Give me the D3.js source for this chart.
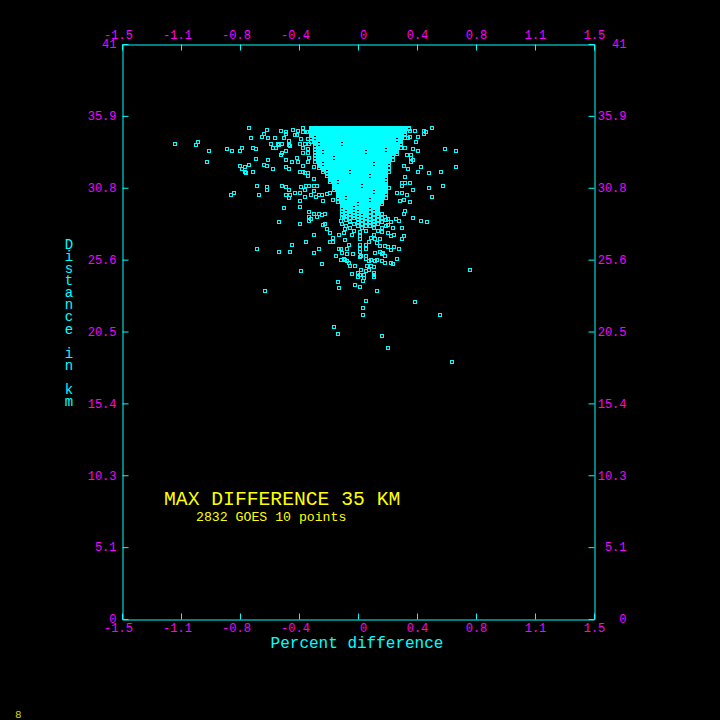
<!DOCTYPE html>
<html>
<head>
<meta charset="utf-8">
<script src="https://cdn.jsdelivr.net/npm/d3@7"></script>
<style>
  body { margin: 0; background: #000; }
  svg { display: block; }
  text { font-family: "Liberation Mono", "DejaVu Sans Mono", monospace; }
</style>
</head>
<body>
<svg></svg>
<script>
// axis ticks
const xTicks = [-1.5, -1.125, -0.75, -0.375, 0, 0.375, 0.75, 1.125, 1.5];
const xTickLabels = ["-1.5", "-1.1", "-0.8", "-0.4", "0", "0.4", "0.8", "1.1", "1.5"];
const yTicks = [0, 5.125, 10.25, 15.375, 20.5, 25.625, 30.75, 35.875, 41];
const yTickLabels = ["0", "5.1", "10.3", "15.4", "20.5", "25.6", "30.8", "35.9", "41"];

// texts
const xTitle = "Percent difference";
const yTitle = "Distance in km";
const mainNote = "MAX DIFFERENCE 35 KM";
const subNote = "2832 GOES 10 points";
const pageNo = "8";

// dense core of the cloud, one row of percent values per distance (km)
const coreDist = [35.01, 34.94, 34.87, 34.73, 34.58, 34.44, 34.30, 34.15, 34.01, 33.87,
  33.73, 33.58, 33.44, 33.30, 33.16, 33.01, 32.87, 32.73, 32.59, 32.44,
  32.30, 32.16, 32.02, 31.87, 31.73, 31.59, 31.45, 31.30, 31.16, 31.02,
  30.87, 30.73, 30.59, 30.45, 30.30, 30.16, 30.02, 29.88, 29.73, 29.59,
  29.45, 29.31, 29.16, 29.02, 28.85, 28.72, 28.60, 28.45, 28.30, 28.15,
  28.00, 27.85, 27.70];
const corePct = [
  [-0.3,-0.275,-0.25,-0.225,-0.2,-0.175,-0.15,-0.125,-0.1,-0.075,-0.05,-0.025,0,0.025,0.05,0.075,0.1,0.125,0.15,0.175,0.2,0.225,0.25,0.275,0.3,0.325],
  [-0.3,-0.275,-0.25,-0.225,-0.2,-0.175,-0.15,-0.125,-0.1,-0.075,-0.05,-0.025,0,0.025,0.05,0.075,0.1,0.125,0.15,0.175,0.2,0.225,0.25,0.275,0.3,0.325],
  [-0.3,-0.275,-0.25,-0.225,-0.2,-0.175,-0.15,-0.125,-0.1,-0.075,-0.05,-0.025,0,0.025,0.05,0.075,0.1,0.125,0.15,0.175,0.2,0.225,0.25,0.275,0.3],
  [-0.325,-0.3,-0.275,-0.25,-0.225,-0.2,-0.175,-0.15,-0.125,-0.1,-0.075,-0.05,-0.025,0,0.025,0.05,0.075,0.1,0.125,0.15,0.175,0.2,0.225,0.25,0.275,0.3],
  [-0.3,-0.275,-0.25,-0.225,-0.2,-0.175,-0.15,-0.125,-0.1,-0.075,-0.05,-0.025,0,0.025,0.05,0.075,0.1,0.125,0.15,0.175,0.2,0.225,0.25,0.275,0.3],
  [-0.3,-0.275,-0.25,-0.225,-0.2,-0.175,-0.15,-0.125,-0.1,-0.075,-0.05,-0.025,0,0.025,0.05,0.075,0.1,0.125,0.15,0.175,0.2,0.225,0.25,0.275],
  [-0.3,-0.25,-0.225,-0.2,-0.175,-0.15,-0.125,-0.1,-0.075,-0.05,-0.025,0,0.025,0.05,0.075,0.1,0.125,0.15,0.175,0.2,0.225,0.25,0.275,0.3],
  [-0.275,-0.25,-0.225,-0.2,-0.175,-0.15,-0.125,-0.1,-0.075,-0.05,-0.025,0,0.025,0.05,0.075,0.1,0.125,0.15,0.175,0.2,0.225,0.275],
  [-0.3,-0.275,-0.25,-0.225,-0.2,-0.175,-0.15,-0.125,-0.1,-0.075,-0.05,-0.025,0,0.025,0.05,0.075,0.1,0.125,0.15,0.175,0.2,0.225,0.25,0.275],
  [-0.275,-0.225,-0.2,-0.175,-0.15,-0.125,-0.075,-0.05,-0.025,0,0.025,0.05,0.075,0.1,0.125,0.15,0.175,0.2,0.225,0.25,0.275],
  [-0.275,-0.25,-0.225,-0.2,-0.175,-0.15,-0.125,-0.1,-0.075,-0.05,-0.025,0,0.025,0.05,0.075,0.1,0.125,0.15,0.175,0.2,0.225,0.25],
  [-0.25,-0.225,-0.2,-0.175,-0.15,-0.125,-0.1,-0.075,-0.05,-0.025,0,0.025,0.05,0.075,0.1,0.125,0.15,0.175,0.2,0.225,0.25,0.275],
  [-0.275,-0.25,-0.225,-0.2,-0.175,-0.15,-0.125,-0.1,-0.075,-0.05,-0.025,0,0.025,0.05,0.075,0.1,0.125,0.15,0.2,0.225,0.25],
  [-0.275,-0.25,-0.2,-0.175,-0.15,-0.125,-0.1,-0.075,-0.05,-0.025,0,0.025,0.075,0.1,0.125,0.15,0.175,0.2,0.225,0.25],
  [-0.25,-0.225,-0.2,-0.175,-0.15,-0.125,-0.1,-0.075,-0.05,-0.025,0,0.025,0.05,0.075,0.1,0.125,0.15,0.175,0.2,0.225,0.25],
  [-0.275,-0.25,-0.225,-0.2,-0.175,-0.15,-0.125,-0.1,-0.075,-0.05,-0.025,0,0.025,0.05,0.075,0.1,0.125,0.15,0.175,0.2,0.225],
  [-0.275,-0.25,-0.225,-0.2,-0.175,-0.125,-0.1,-0.075,-0.05,-0.025,0,0.025,0.05,0.075,0.1,0.125,0.15,0.175,0.2],
  [-0.25,-0.225,-0.2,-0.175,-0.15,-0.125,-0.1,-0.075,-0.05,-0.025,0,0.025,0.05,0.075,0.1,0.125,0.15,0.175,0.2,0.225],
  [-0.275,-0.25,-0.225,-0.2,-0.175,-0.15,-0.125,-0.1,-0.075,-0.05,-0.025,0,0.025,0.05,0.075,0.1,0.125,0.15,0.175,0.2],
  [-0.25,-0.2,-0.175,-0.15,-0.125,-0.1,-0.075,-0.05,-0.025,0,0.025,0.05,0.075,0.125,0.15,0.175,0.2],
  [-0.25,-0.225,-0.2,-0.175,-0.15,-0.125,-0.1,-0.075,-0.05,-0.025,0,0.025,0.05,0.075,0.1,0.125,0.15,0.175],
  [-0.25,-0.225,-0.2,-0.175,-0.15,-0.125,-0.1,-0.075,-0.05,-0.025,0,0.025,0.05,0.075,0.1,0.125,0.15,0.175,0.2],
  [-0.225,-0.2,-0.175,-0.15,-0.125,-0.1,-0.075,-0.05,-0.025,0,0.025,0.05,0.075,0.1,0.125,0.15,0.175],
  [-0.225,-0.175,-0.15,-0.125,-0.1,-0.075,-0.025,0,0.025,0.05,0.075,0.1,0.125,0.15,0.175,0.2],
  [-0.2,-0.175,-0.15,-0.125,-0.1,-0.075,-0.05,-0.025,0,0.025,0.05,0.075,0.1,0.125,0.15,0.175],
  [-0.2,-0.175,-0.15,-0.125,-0.1,-0.075,-0.05,-0.025,0,0.025,0.05,0.1,0.125,0.15,0.175],
  [-0.175,-0.15,-0.125,-0.1,-0.075,-0.05,-0.025,0,0.025,0.05,0.075,0.1,0.125,0.15,0.175],
  [-0.175,-0.15,-0.125,-0.1,-0.075,-0.05,-0.025,0,0.025,0.05,0.075,0.1,0.125,0.15],
  [-0.175,-0.15,-0.1,-0.075,-0.05,-0.025,0,0.025,0.05,0.075,0.1,0.125,0.15,0.175],
  [-0.15,-0.125,-0.1,-0.075,-0.05,-0.025,0,0.025,0.05,0.075,0.1,0.125,0.15,0.175],
  [-0.15,-0.125,-0.1,-0.075,-0.05,-0.025,0,0.05,0.075,0.1,0.125,0.15,0.175],
  [-0.15,-0.125,-0.1,-0.075,-0.05,-0.025,0,0.025,0.05,0.075,0.1,0.125,0.15,0.175,0.2],
  [-0.15,-0.125,-0.1,-0.075,-0.05,-0.025,0,0.025,0.05,0.075,0.1,0.125,0.15,0.175],
  [-0.125,-0.1,-0.075,-0.05,-0.025,0,0.025,0.05,0.075,0.125,0.15,0.175],
  [-0.125,-0.1,-0.075,-0.05,-0.025,0,0.025,0.05,0.075,0.1,0.125,0.15,0.175],
  [-0.125,-0.1,-0.075,-0.05,-0.025,0,0.025,0.05,0.075,0.1,0.125,0.15],
  [-0.125,-0.1,-0.05,-0.025,0,0.025,0.05,0.075,0.1,0.125,0.15,0.175],
  [-0.1,-0.075,-0.05,-0.025,0,0.025,0.05,0.1,0.125,0.15],
  [-0.125,-0.1,-0.075,-0.05,-0.025,0,0.025,0.05,0.075,0.1,0.125,0.15],
  [-0.1,-0.075,-0.05,-0.025,0.025,0.05,0.075,0.1,0.125,0.15],
  [-0.1,-0.075,-0.05,-0.025,0,0.025,0.05,0.075,0.1,0.125],
  [-0.1,-0.075,-0.05,0,0.025,0.05,0.075,0.1,0.125],
  [-0.075,-0.05,-0.025,0,0.025,0.05,0.1,0.125],
  [-0.1,-0.05,-0.025,0.025,0.05,0.075,0.125],
  [-0.1,-0.075,-0.05,0,0.025,0.05,0.1,0.125,0.15],
  [-0.075,-0.025,0,0.05,0.075,0.125],
  [-0.1,-0.05,-0.025,0.025,0.05,0.1,0.15],
  [-0.075,0,0.025,0.075,0.125,0.175],
  [-0.05,0,0.05,0.075,0.1,0.15],
  [-0.1,-0.025,0.025,0.1,0.125],
  [-0.075,0,0.05,0.075,0.175],
  [-0.05,0.025,0.1,0.15],
  [-0.025,0.05,0.125]
];

// scattered points around the core: [percent difference, distance km]
const outliers = [
  [-1.16,33.9],[-1.02,34.0],[-1.03,33.8],[-0.95,33.4],[-0.96,32.6],[-0.83,33.5],[-0.80,33.4],
  [-0.74,33.6],[-0.75,33.4],[-0.69,35.0],[-0.68,34.3],[-0.67,33.6],[-0.65,33.5],[-0.65,32.8],
  [-0.69,32.4],[-0.75,32.3],[-0.74,32.1],[-0.72,32.2],[-0.72,31.9],[-0.71,31.8],[-0.67,31.9],
  [-0.58,34.9],[-0.60,34.6],[-0.61,34.4],[-0.57,34.3],[-0.53,34.3],[-0.55,33.9],[-0.51,33.9],
  [-0.50,33.8],[-0.48,33.9],[-0.54,33.6],[-0.52,33.6],[-0.57,32.7],[-0.60,32.4],[-0.58,32.3],
  [-0.54,32.1],[-0.49,34.8],[-0.46,34.7],[-0.46,34.6],[-0.47,34.3],[-0.44,34.1],[-0.44,33.8],
  [-0.43,33.7],[-0.46,33.4],[-0.48,33.2],[-0.49,33.1],[-0.46,32.7],[-0.46,32.2],[-0.44,32.1],
  [-0.64,30.9],[-0.79,30.4],[-0.81,30.2],[-0.63,30.2],[-0.58,30.8],[-0.58,30.6],[-0.48,30.9],
  [-0.46,30.8],[-0.44,30.6],[-0.46,30.2],[-0.43,30.2],[-0.44,30.0],[-0.47,29.3],[-0.50,28.3],
  [-0.64,26.4],[-0.50,26.2],[-0.43,26.2],[-0.42,26.7],[-0.36,24.8],[-0.59,23.4],
  [-0.41,34.9],[-0.40,34.5],[-0.39,34.5],[-0.38,34.8],[-0.37,33.9],[-0.39,32.9],[-0.42,32.6],
  [-0.38,32.6],[-0.37,31.9],[-0.35,31.9],[-0.36,30.8],[-0.34,30.6],[-0.40,30.4],[-0.37,30.4],
  [-0.34,30.1],[-0.37,29.4],[-0.37,29.8],[-0.37,28.2],[-0.31,29.0],[-0.30,28.5],[-0.31,28.4],
  [-0.28,27.4],[-0.33,26.9],[-0.28,26.1],[-0.25,26.4],
  [-0.35,35.0],[-0.35,34.7],[-0.36,34.2],[-0.35,33.6],[-0.35,33.2],[-0.35,32.3],[-0.34,31.8],
  [-0.32,31.6],[-0.28,32.2],[-0.31,32.9],[-0.32,33.5],[-0.32,34.7],[-0.32,34.2],[-0.34,33.9],
  [-0.31,33.9],[-0.32,33.2],[-0.32,32.6],[-0.32,31.8],[-0.28,31.4],
  [-0.33,30.9],[-0.31,30.9],[-0.28,30.9],[-0.26,30.9],[-0.28,30.5],[-0.30,30.2],[-0.27,30.1],
  [-0.25,30.2],[-0.23,30.2],[-0.20,30.3],[-0.22,29.8],[-0.18,30.4],[-0.16,29.9],
  [-0.31,28.7],[-0.28,28.9],[-0.26,28.7],[-0.23,28.8],[-0.21,28.9],[-0.25,28.9],[-0.21,28.2],
  [-0.22,28.1],[-0.20,27.8],[-0.18,27.5],[-0.16,27.2],[-0.18,26.9],[-0.16,26.9],
  [-0.11,28.4],[-0.09,28.7],[-0.05,28.4],[-0.08,27.8],[-0.12,27.4],[-0.09,27.5],[-0.08,27.0],
  [-0.06,26.7],[-0.04,27.4],[-0.14,25.9],[-0.12,26.4],[-0.10,26.1],[-0.07,25.5],
  [0.47,35.0],[0.42,34.8],[0.43,34.7],[0.42,34.6],[0.37,34.0],[0.55,33.5],[0.62,33.4],
  [0.38,33.4],[0.34,32.9],[0.35,32.7],[0.34,32.6],[0.40,32.2],[0.38,31.9],[0.45,31.8],
  [0.53,31.9],[0.62,32.2],[0.54,30.9],[0.45,30.7],[0.47,30.1],[0.35,30.6],[0.33,29.7],
  [0.30,29.1],[0.29,28.9],[0.35,28.6],[0.40,28.4],[0.44,28.3],[0.28,27.9],[0.29,27.3],
  [0.28,27.1],[0.25,25.7],[0.21,25.4],[0.22,25.3],[0.71,24.9],[0.36,22.6],
  [0.33,34.8],[0.36,34.8],[0.38,34.4],[0.33,34.4],[0.32,34.3],[0.35,33.5],[0.34,33.1],
  [0.30,33.6],[0.31,33.1],[0.29,32.3],[0.32,32.1],[0.30,31.5],[0.28,31.1],[0.30,31.1],
  [0.33,31.1],[0.28,30.4],[0.31,30.2],[0.29,29.9],[0.27,29.8],[0.28,30.9],[0.25,30.4],
  [0.24,28.5],[0.26,28.4],[0.21,28.3],[0.22,27.9],[0.23,27.4],[0.19,28.1],[0.19,28.5],[0.17,28.7],
  [0.01,27.1],[0.01,27.3],[0.01,27.6],[0.05,27.7],[0.08,27.2],[0.10,27.4],[0.11,27.1],
  [0.12,26.8],[0.14,27.1],[0.15,27.6],[0.19,27.5],[0.21,27.3],[0.14,26.6],[0.17,26.6],
  [0.17,25.9],[0.15,26.0],[0.19,26.5],[0.23,26.5],[0.26,26.4],[0.21,26.3],[0.16,26.1],
  [0.05,25.9],[0.05,26.4],[0.01,26.4],[0.01,26.7],[0.05,26.7],[-0.09,25.7],[-0.07,26.0],
  [-0.11,26.4],[-0.07,26.4],[-0.03,26.0],[0.01,25.8],[0.02,25.9],[0.01,26.2],[0.05,25.7],
  [0.07,25.5],[0.07,26.9],[0.14,26.2],[0.11,26.1],[0.12,25.6],[0.15,25.5],[0.17,25.4],
  [-0.11,25.6],[-0.08,25.6],[-0.06,25.4],[-0.05,25.2],[-0.02,25.2],[-0.04,24.6],[0.00,24.7],
  [0.01,24.5],[0.00,24.4],[0.02,24.9],[0.05,24.8],[0.06,25.2],[0.08,25.2],[0.10,25.1],
  [0.07,24.9],[0.04,24.5],[0.04,24.3],[0.03,24.1],[0.10,24.7],[0.10,24.5],[0.10,24.4],
  [0.08,25.6],[0.11,25.5],[-0.23,25.3],
  [0.12,23.4],[0.05,22.7],[0.03,22.2],[0.03,21.7],[-0.02,23.8],[0.01,23.7],[-0.13,24.0],
  [-0.12,23.6],[0.52,21.7],[-0.15,20.8],[-0.13,20.3],[0.15,20.2],[0.19,19.3],[0.60,18.3]
];

const W = 720, H = 720;
const cyan = "#00ffff", magenta = "#ff00ff", yellow = "#ffff00";

const svg = d3.select("svg").attr("width", W).attr("height", H);
svg.append("rect").attr("width", W).attr("height", H).attr("fill", "#000");

const x = d3.scaleLinear().domain([-1.5, 1.5]).range([122, 594]);
const y = d3.scaleLinear().domain([0, 41]).range([619, 44]);

// flatten the point table
let points = [];
coreDist.forEach((d, i) => corePct[i].forEach(p => points.push([p, d])));
points = points.concat(outliers);

// hollow square markers
svg.append("g")
  .selectAll("rect")
  .data(points)
  .join("rect")
    .attr("x", d => Math.round(x(d[0])) - 1.5)
    .attr("y", d => Math.round(y(d[1])) - 1.5)
    .attr("width", 3)
    .attr("height", 3)
    .attr("fill", "none")
    .attr("stroke", cyan)
    .attr("stroke-width", 1);

// axes on all four sides, ticks pointing inward
let xLabel = (d, i) => xTickLabels[i];
let labelShift = (d, i) => xTickLabels[i] === "0" ? 5 : (xTickLabels[i][0] === "-" ? -4 : 0);

let styleAxis = g => {
  g.select(".domain").attr("stroke", cyan).attr("stroke-width", 1);
  g.selectAll(".tick line").attr("stroke", cyan).attr("stroke-width", 1);
  g.selectAll(".tick text").attr("fill", magenta).style("font-size", "12px")
    .style("font-family", "'Liberation Mono', 'DejaVu Sans Mono', monospace");
};

svg.append("g")
  .attr("transform", "translate(0,619.5)")
  .call(d3.axisBottom(x).tickValues(xTicks).tickFormat(xLabel)
    .tickSizeInner(-6).tickSizeOuter(0).tickPadding(4))
  .call(styleAxis)
  .selectAll(".tick text").attr("dx", labelShift);

svg.append("g")
  .attr("transform", "translate(0,44.5)")
  .call(d3.axisTop(x).tickValues(xTicks).tickFormat(xLabel)
    .tickSizeInner(-6).tickSizeOuter(0).tickPadding(5.5))
  .call(styleAxis)
  .selectAll(".tick text").attr("dx", labelShift);

svg.append("g")
  .attr("transform", "translate(122.5,0)")
  .call(d3.axisLeft(y).tickValues(yTicks).tickFormat((d, i) => yTickLabels[i])
    .tickSizeInner(-6).tickSizeOuter(0).tickPadding(6))
  .call(styleAxis);

svg.append("g")
  .attr("transform", "translate(594.5,0)")
  .call(d3.axisRight(y).tickValues(yTicks).tickFormat((d, i) => yTickLabels[i])
    .tickSizeInner(-6).tickSizeOuter(0).tickPadding(6))
  .call(styleAxis)
  .selectAll(".tick text").attr("text-anchor", "end").attr("x", 32);

// axis titles
svg.append("text")
  .attr("x", 357).attr("y", 648)
  .attr("text-anchor", "middle")
  .attr("fill", cyan)
  .style("font-size", "16px")
  .text(xTitle);

// vertical title, one letter under the other
svg.append("g")
  .selectAll("text")
  .data(yTitle.split(""))
  .join("text")
    .attr("x", 69)
    .attr("y", (c, i) => 249 + i * 12.08)
    .attr("text-anchor", "middle")
    .attr("fill", cyan)
    .style("font-size", "14px")
    .text(c => c);

// notes inside the plot
svg.append("text")
  .attr("x", 164).attr("y", 505)
  .attr("fill", yellow)
  .style("font-size", "19.7px")
  .text(mainNote);

svg.append("text")
  .attr("x", 196).attr("y", 521)
  .attr("fill", yellow)
  .style("font-size", "13.2px")
  .text(subNote);

svg.append("text")
  .attr("x", 15).attr("y", 718)
  .attr("fill", "#d4d400")
  .style("font-size", "11px")
  .text(pageNo);
</script>
</body>
</html>
